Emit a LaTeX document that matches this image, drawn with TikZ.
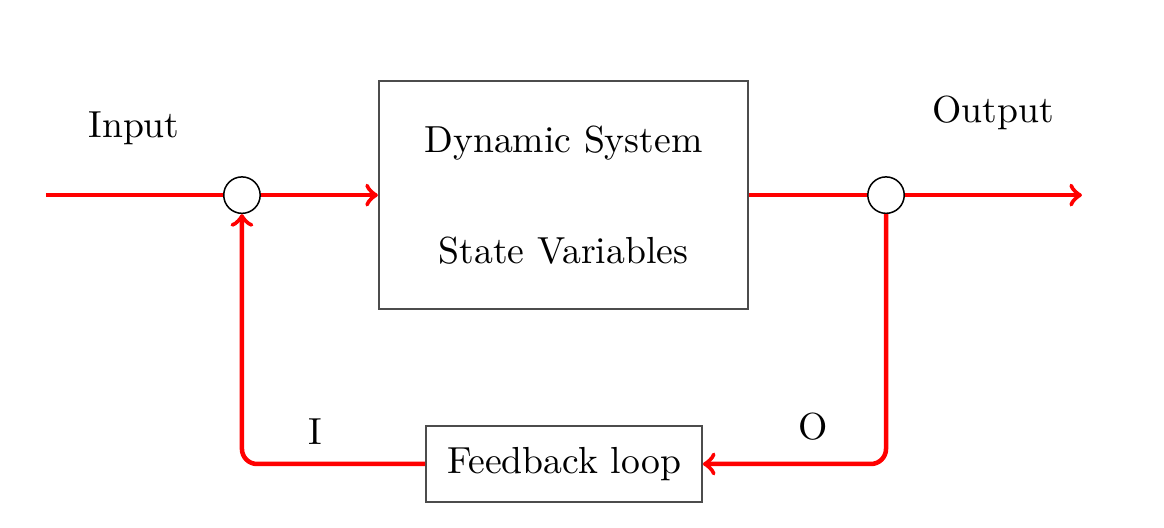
\documentclass[tikz,border=0pt]{standalone}
\usetikzlibrary{positioning}
\begin{document}
\begin{tikzpicture}[
    box/.style={rectangle, draw=black!70, semithick, align=center},
    junction/.style={circle, draw, fill=white, minimum size=0.34cm, inner sep=0pt},
    signal/.style={red, very thick}
]
    \useasboundingbox (0,0) rectangle (10.858,-4.925);
    % Nodes
    \node[box, minimum width=3.44cm, minimum height=2.13cm] (sys) at (5.256,-1.82) {Dynamic System\\[0.62cm]State Variables};
    \node[box, minimum width=2.57cm, minimum height=0.71cm] (fb) at (5.261,-4.328) {Feedback loop};
    \node[junction] (sumin) at (2.257,-1.82) {};
    \node[junction] (sumout) at (8.265,-1.82) {};
    \coordinate (in) at (0.429,-1.82);
    \coordinate (out) at (10.093,-1.82);
    
    % Labels
    \node (lblin) at (1.25,-1.194) {Input};
    \node (lblout) at (9.263,-1.054) {Output};
    \node (lbli) at (2.94,-4.03) {I};
    \node (lblo) at (7.584,-3.983) {O};
    
    % Arrows
    \draw[signal] (in) -- (sumin);
    \draw[signal, ->] (sumin) -- (sys);
    \draw[signal] (sys) -- (sumout);
    \draw[signal, ->] (sumout) -- (out);
    \draw[signal, ->, rounded corners] (sumout) |- (fb);
    \draw[signal, ->, rounded corners] (fb) -| (sumin);
\end{tikzpicture}
\end{document}
